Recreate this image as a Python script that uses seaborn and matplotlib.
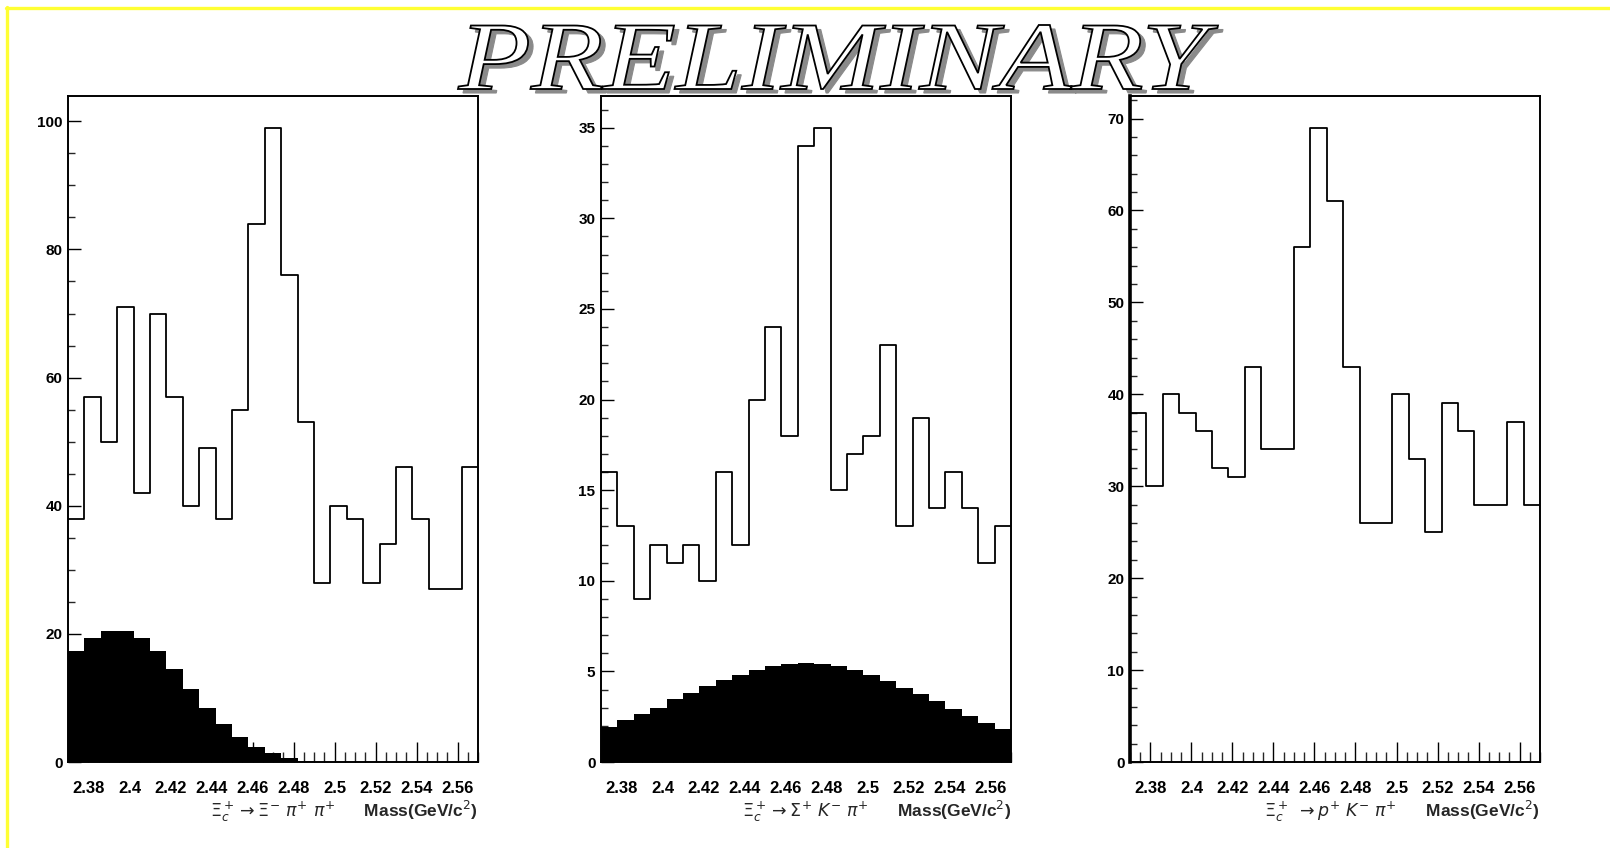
import seaborn as sns
import pandas as pd
import matplotlib.pyplot as plt
import numpy as np
from matplotlib.ticker import MultipleLocator, FuncFormatter
from matplotlib.textpath import TextPath
from matplotlib.font_manager import FontProperties
from matplotlib.patches import PathPatch
from matplotlib.transforms import Affine2D
from matplotlib.lines import Line2D

#-----------------------------------------------------------------------------------------------------------------------
"""Data read off the plots (25 bins, 2.37 - 2.57 GeV/c^2)"""
mass_lo = 2.37
mass_hi = 2.57
n_bins = 25

# Xi_c+ -> Xi- pi+ pi+
xipipi_counts = [38, 57, 50, 71, 42, 70, 57, 40, 49, 38, 55, 84, 99, 76, 53,
                 28, 40, 38, 28, 34, 46, 38, 27, 27, 46]
xipipi_bkg = [17.4, 19.4, 20.4, 20.4, 19.4, 17.4, 14.5, 11.4, 8.5, 5.9, 3.9, 2.3, 1.4,
              0.7, 0.2, 0.05, 0.02, 0, 0, 0, 0, 0, 0, 0, 0]

# Xi_c+ -> Sigma+ K- pi+
sigkpi_counts = [16, 13, 9, 12, 11, 12, 10, 16, 12, 20, 24, 18, 34, 35, 15,
                 17, 18, 23, 13, 19, 14, 16, 14, 11, 13]
sigkpi_bkg = [1.95, 2.3, 2.65, 3.0, 3.45, 3.8, 4.2, 4.55, 4.8, 5.1, 5.3, 5.4, 5.45,
              5.4, 5.3, 5.1, 4.8, 4.45, 4.1, 3.75, 3.35, 2.9, 2.55, 2.15, 1.8]

# Xi_c+ -> p+ K- pi+
pkpi_counts = [38, 30, 40, 38, 36, 32, 31, 43, 34, 34, 56, 69, 61, 43, 26,
               26, 40, 33, 25, 39, 36, 28, 28, 37, 28]

edges = [float(e) for e in np.linspace(mass_lo, mass_hi, n_bins + 1)]
centers = [0.5 * (a + b) for a, b in zip(edges[:-1], edges[1:])]

panels = [
    (xipipi_counts, xipipi_bkg, r'$\Xi_c^+ \rightarrow \Xi^{-}\ \pi^{+}\ \pi^{+}$', 20, 5),
    (sigkpi_counts, sigkpi_bkg, r'$\Xi_c^+ \rightarrow \Sigma^{+}\ K^{-}\ \pi^{+}$', 5, 1),
    (pkpi_counts, None, r'$\Xi_c^+ \ \rightarrow p^{+}\ K^{-}\ \pi^{+}$', 10, 2),
]

#-----------------------------------------------------------------------------------------------------------------------
"""Creating the Figure"""
sns.set_style("ticks")
plt.rcParams['font.family'] = ['Liberation Sans', 'DejaVu Sans']
plt.rcParams['mathtext.fontset'] = 'dejavusans'

W, H = 1610, 848
fig = plt.figure(figsize=(W / 100, H / 100), dpi=100)
fig.patch.set_facecolor('white')

lefts = [68, 601, 1130]
ax_w, ax_bottom, ax_top = 410, 762, 96

fmt = FuncFormatter(lambda v, p: f'{round(v, 3):g}')

for i, (counts, bkg, decay, ymaj, ymin) in enumerate(panels):
    ax = fig.add_axes([lefts[i] / W, (H - ax_bottom) / H, ax_w / W, (ax_bottom - ax_top) / H])
    df = pd.DataFrame({'mass': centers, 'counts': counts})

    # Filled black shape (expected reflection / background)
    if bkg is not None:
        dfb = pd.DataFrame({'mass': centers, 'counts': bkg})
        sns.histplot(data=dfb, x='mass', weights='counts', bins=edges, element='step',
                     fill=True, color='black', alpha=1, linewidth=0, ax=ax)

    # Data histogram outline
    sns.histplot(data=df, x='mass', weights='counts', bins=edges, element='step',
                 fill=False, color='black', linewidth=1.3, ax=ax)

    ax.set_xlim(mass_lo, mass_hi)
    ax.set_ylim(0, 1.05 * max(counts))
    ax.set_ylabel('')
    ax.set_facecolor('white')

    for s in ax.spines.values():
        s.set_visible(True)
        s.set_color('black')
        s.set_linewidth(1.4)
    if i == 2:
        ax.spines['left'].set_linewidth(2.6)

    ax.xaxis.set_major_locator(MultipleLocator(0.02))
    ax.xaxis.set_minor_locator(MultipleLocator(0.005))
    ax.xaxis.set_major_formatter(fmt)
    ax.yaxis.set_major_locator(MultipleLocator(ymaj))
    ax.yaxis.set_minor_locator(MultipleLocator(ymin))

    ax.tick_params(axis='x', which='major', direction='in', length=14.5, width=1, pad=13.5,
                   labelsize=12, top=False, bottom=True, colors='black')
    ax.tick_params(axis='x', which='minor', direction='in', length=7.5, width=1, top=False, bottom=True)
    ax.tick_params(axis='y', which='major', direction='in', length=9, width=1, pad=4,
                   labelsize=11, left=True, right=False, colors='black')
    ax.tick_params(axis='y', which='minor', direction='in', length=5, width=1, left=True, right=False)
    for lab in ax.get_xticklabels() + ax.get_yticklabels():
        lab.set_fontweight('bold')

    ax.set_xlabel(decay + r'      Mass(GeV/c$^{2}$)', fontsize=12.5, fontweight='bold',
                  ha='right', va='center')
    ax.xaxis.set_label_coords(1.0, -0.074)

#-----------------------------------------------------------------------------------------------------------------------
"""PRELIMINARY banner and slide frame"""
tp = TextPath((0, 0), "PRELIMINARY", prop=FontProperties(family='Liberation Serif', style='italic'), size=100)
bb = tp.get_extents()
x0, x1 = 458, 1218
yb, yt = H - 89, H - 25
trans = (Affine2D().translate(-bb.x0, -bb.y0)
         .scale((x1 - x0) / bb.width, (yt - yb) / bb.height)
         .translate(x0, yb).scale(1 / W, 1 / H))
title_path = trans.transform_path(tp)
shadow_path = Affine2D().translate(5 / W, -4 / H).transform_path(title_path)
fig.add_artist(PathPatch(shadow_path, transform=fig.transFigure, fc='#8a8a8a', ec='#8a8a8a', lw=0.8))
fig.add_artist(PathPatch(title_path, transform=fig.transFigure, fc='white', ec='black', lw=1.3))

fig.add_artist(Line2D([6 / W, 1], [1 - 8.3 / H, 1 - 8.3 / H], transform=fig.transFigure,
                      color='#ffff33', linewidth=2.4))
fig.add_artist(Line2D([7.3 / W, 7.3 / W], [0, 1 - 7 / H], transform=fig.transFigure,
                      color='#ffff33', linewidth=2.4))

#-----------------------------------------------------------------------------------------------------------------------
"""Saving the Graph"""
fig.savefig('out.png', dpi=100, facecolor='white')
